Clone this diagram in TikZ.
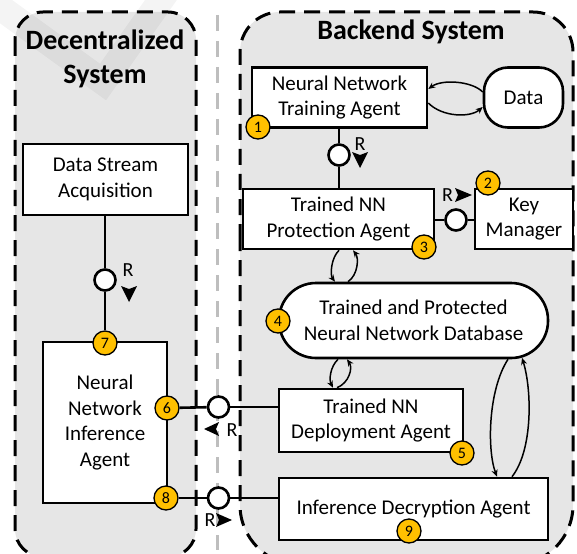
\documentclass[tikz,border=0pt]{standalone}
\usepackage{fontspec}
\setmainfont{Carlito}
\usetikzlibrary{arrows.meta}
\definecolor{panelgray}{HTML}{E6E6E6}
\definecolor{badgegold}{HTML}{FFC000}
\definecolor{midgray}{HTML}{BEBEBE}

\newcommand{\rsize}{\fontsize{20}{20}\selectfont}
\newcommand{\badgesize}{\fontsize{16}{16}\selectfont}

\begin{document}
\begin{tikzpicture}[x=1pt,y=-1pt,
  agent/.style={draw, line width=2.6pt, fill=white, inner sep=0pt, align=center,
    font=\fontsize{21}{25.5}\selectfont},
  badge/.style={circle, draw, line width=1.3pt, fill=badgegold, inner sep=0pt,
    minimum size=24pt, font=\badgesize},
  port/.style={circle, draw, line width=2.6pt, fill=white, inner sep=0pt, minimum size=21pt},
  wire/.style={line width=2.6pt},
  flow/.style={line width=1.5pt, -{Stealth[length=7pt,width=6pt]}},
  rlabel/.style={font=\rsize, inner sep=0pt},
  title/.style={font=\fontsize{28}{34}\selectfont\bfseries, align=center, inner sep=0pt},
  panel/.style={fill=panelgray, draw, line width=3pt, dash pattern=on 16pt off 9pt},
]
\useasboundingbox (0,0) rectangle (577,553);
\clip (0,0) rectangle (577,553);

% the two system panels and the divider between them
\draw[panel, rounded corners=28pt] (15,12) rectangle (196,557);
\draw[panel] (240,300) [rounded corners=40pt] -- (240,12) -- (573,12) -- (573,300)
  [rounded corners=60pt] -- (573,565) -- (240,565) -- cycle;
\draw[midgray, line width=3pt, dash pattern=on 16pt off 10pt] (217,15) -- (217,550);

% faint check mark in the corner
\draw[black, opacity=0.045, line width=26pt] (-10,0) -- (103,82) -- (168,-10);

\node[title] (tdec) at (105,59) {Decentralized\\System};
\node[title] (tback) at (411,32) {Backend System};

% agents and stores
\node[agent, minimum width=175pt, minimum height=60pt] (train) at (339.5,97.5) {Neural Network\\Training Agent};
\node[agent, rounded corners=24pt, minimum width=79pt, minimum height=60pt] (data) at (523.5,97.5) {Data};
\node[agent, minimum width=191pt, minimum height=60pt] (protect) at (338.5,219) {Trained NN\\Protection Agent};
\node[agent, minimum width=98pt, minimum height=60pt] (keymgr) at (524,219) {Key\\Manager};
\node[agent, rounded corners=37pt, minimum width=269pt, minimum height=75pt] (db) at (413.5,320.5) {Trained and Protected\\Neural Network Database};
\node[agent, minimum width=184pt, minimum height=63pt] (deploy) at (371,420.5) {Trained NN\\Deployment Agent};
\node[agent, minimum width=269pt, minimum height=62pt] (decrypt) at (413.5,509) {Inference Decryption Agent};
\node[agent, minimum width=165pt, minimum height=71pt] (dsa) at (105.5,179.5) {Data Stream\\Acquisition};
\node[agent, minimum width=124pt, minimum height=161pt] (infer) at (105,422.5) {Neural\\Network\\Inference\\Agent};

% request ports
\node[port] (p1) at (339,155) {};
\node[port] (p2) at (456,220) {};
\node[port] (p3) at (105,280) {};
\node[port] (p4) at (218.5,407) {};
\node[port] (p5) at (218.5,498) {};

% numbered markers
\node[badge] (b1) at (258,127) {\badgesize 1};
\node[badge] (b2) at (488,183) {\badgesize 2};
\node[badge] (b3) at (424,247) {\badgesize 3};
\node[badge] (b4) at (278,321) {\badgesize 4};
\node[badge] (b5) at (462,453) {\badgesize 5};
\node[badge] (b6) at (167,408) {\badgesize 6};
\node[badge] (b7) at (105,343) {\badgesize 7};
\node[badge] (b8) at (166,498) {\badgesize 8};
\node[badge] (b9) at (409,531) {\badgesize 9};

% request connectors
\draw[wire] (p1 |- train.south) -- (p1);
\draw[wire] (p1) -- (p1 |- protect.north);
\draw[wire] (protect.east |- p2) -- (p2);
\draw[wire] (p2) -- (keymgr.west |- p2);
\draw[wire] (p3 |- dsa.south) -- (p3);
\draw[wire] (p3) -- (b7);
\draw[wire] (b6) -- (p4);
\draw[wire] (p4) -- (deploy.west |- p4);
\draw[wire] (b8) -- (p5);
\draw[wire] (p5) -- (decrypt.west |- p5);

% request direction labels
\node[rlabel] (r1) at (360,144) {\rsize R};
\fill (352,152) -- (360,155) -- (368,152) -- (360,168) -- cycle;
\node[rlabel] (r2) at (447.5,195) {\rsize R};
\fill (455,188) -- (458,195) -- (455,202) -- (472,195) -- cycle;
\node[rlabel] (r3) at (128,270) {\rsize R};
\fill (121,286) -- (129,289) -- (137,286) -- (129,302) -- cycle;
\node[rlabel] (r4) at (232,430) {\rsize R};
\fill (219,422) -- (216,429) -- (219,436) -- (204,429) -- cycle;
\node[rlabel] (r5) at (210,520) {\rsize R};
\fill (216,513) -- (219,520) -- (216,527) -- (232,520) -- cycle;

% data flows
\draw[flow] ([yshift=5.5pt]data.west) .. controls (472,81) and (442,79) .. ([yshift=8.5pt]train.east);
\draw[flow] ([yshift=-5.5pt]train.east) .. controls (442,117) and (470,118) .. ([yshift=-9.5pt]data.west);
\draw[flow] ([xshift=0.5pt]protect.south) .. controls (331,258) and (330,275) .. ([xshift=-78.5pt]db.north);
\draw[flow] ([xshift=-65.5pt]db.north) .. controls (358,275) and (359,258) .. ([xshift=14.5pt]protect.south);
\draw[flow] ([xshift=-75.5pt]db.south) .. controls (330,367) and (329,380) .. ([xshift=-38pt]deploy.north);
\draw[flow] ([xshift=-34pt]deploy.north) .. controls (349,383) and (353,368) .. ([xshift=-66.5pt]db.south);
\draw[flow] ([xshift=94.5pt]db.south) .. controls (488,390) and (487,450) .. ([xshift=83.5pt]decrypt.north);
\draw[flow] ([xshift=98.5pt]decrypt.north) .. controls (533,450) and (532,390) .. ([xshift=108.5pt,yshift=1.5pt]db.south);
\end{tikzpicture}
\end{document}
